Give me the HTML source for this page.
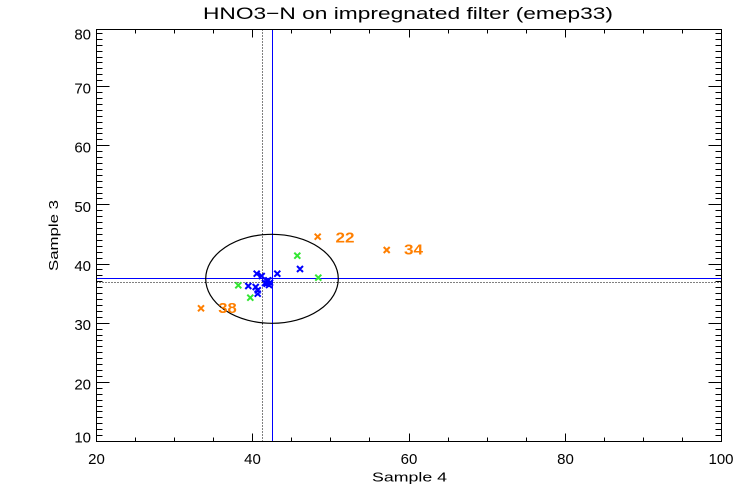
<!DOCTYPE html>
<html><head><meta charset="utf-8"><style>
html,body{margin:0;padding:0;background:#fff;}
svg{display:block;}
text{font-family:"Liberation Sans",sans-serif;}
</style></head><body>
<svg width="750" height="500" viewBox="0 0 750 500" xmlns="http://www.w3.org/2000/svg">
<rect width="750" height="500" fill="#fff"/>
<text x="203" y="19" font-size="17" textLength="410" lengthAdjust="spacingAndGlyphs" fill="#000">HNO3−N on impregnated filter (emep33)</text>

<!-- reference lines -->
<line x1="262.5" y1="29.5" x2="262.5" y2="441.5" stroke="#000" stroke-width="1" stroke-dasharray="1 2"/>
<line x1="96.5" y1="282.5" x2="721.5" y2="282.5" stroke="#000" stroke-width="1" stroke-dasharray="1 2"/>
<line x1="272.5" y1="29.5" x2="272.5" y2="441.5" stroke="#0000ff" stroke-width="1"/>
<line x1="96.5" y1="278.5" x2="721.5" y2="278.5" stroke="#0000ff" stroke-width="1"/>
<ellipse cx="272" cy="278.8" rx="66.3" ry="44.5" fill="none" stroke="#000" stroke-width="1.2"/>

<!-- axes box -->
<rect x="96.5" y="29.5" width="625" height="412" fill="none" stroke="#000" stroke-width="1"/>

<!-- x ticks -->
<path stroke="#000" stroke-width="1" fill="none" d="
M135.5 441.5v-4 M174.5 441.5v-4 M213.5 441.5v-4 M252.5 441.5v-8 M291.5 441.5v-4 M330.5 441.5v-4 M369.5 441.5v-4 M409.5 441.5v-8 M448.5 441.5v-4 M487.5 441.5v-4 M526.5 441.5v-4 M565.5 441.5v-8 M604.5 441.5v-4 M643.5 441.5v-4 M682.5 441.5v-4
M135.5 29.5v4 M174.5 29.5v4 M213.5 29.5v4 M252.5 29.5v8 M291.5 29.5v4 M330.5 29.5v4 M369.5 29.5v4 M409.5 29.5v8 M448.5 29.5v4 M487.5 29.5v4 M526.5 29.5v4 M565.5 29.5v8 M604.5 29.5v4 M643.5 29.5v4 M682.5 29.5v4
"/>
<!-- y ticks left -->
<path stroke="#000" stroke-width="1" fill="none" d="
M96.5 441.5h13 M96.5 435.5h6 M96.5 429.5h6 M96.5 423.5h6 M96.5 417.5h6 M96.5 411.5h6 M96.5 406.5h6 M96.5 400.5h6 M96.5 394.5h6 M96.5 388.5h6
M96.5 382.5h13 M96.5 376.5h6 M96.5 370.5h6 M96.5 364.5h6 M96.5 358.5h6 M96.5 352.5h6 M96.5 346.5h6 M96.5 340.5h6 M96.5 335.5h6 M96.5 329.5h6
M96.5 323.5h13 M96.5 317.5h6 M96.5 311.5h6 M96.5 305.5h6 M96.5 299.5h6 M96.5 293.5h6 M96.5 287.5h6 M96.5 281.5h6 M96.5 275.5h6 M96.5 269.5h6
M96.5 264.5h13 M96.5 258.5h6 M96.5 252.5h6 M96.5 246.5h6 M96.5 240.5h6 M96.5 234.5h6 M96.5 228.5h6 M96.5 222.5h6 M96.5 216.5h6 M96.5 210.5h6
M96.5 204.5h13 M96.5 198.5h6 M96.5 193.5h6 M96.5 187.5h6 M96.5 181.5h6 M96.5 175.5h6 M96.5 169.5h6 M96.5 163.5h6 M96.5 157.5h6 M96.5 151.5h6
M96.5 145.5h13 M96.5 139.5h6 M96.5 133.5h6 M96.5 128.5h6 M96.5 122.5h6 M96.5 116.5h6 M96.5 110.5h6 M96.5 104.5h6 M96.5 98.5h6 M96.5 92.5h6
M96.5 86.5h13 M96.5 80.5h6 M96.5 74.5h6 M96.5 68.5h6 M96.5 62.5h6 M96.5 57.5h6 M96.5 51.5h6 M96.5 45.5h6 M96.5 39.5h6 M96.5 33.5h6
M96.5 29.5h13
"/>
<!-- y ticks right -->
<path stroke="#000" stroke-width="1" fill="none" d="
M721.5 441.5h-13 M721.5 435.5h-6 M721.5 429.5h-6 M721.5 423.5h-6 M721.5 417.5h-6 M721.5 411.5h-6 M721.5 406.5h-6 M721.5 400.5h-6 M721.5 394.5h-6 M721.5 388.5h-6
M721.5 382.5h-13 M721.5 376.5h-6 M721.5 370.5h-6 M721.5 364.5h-6 M721.5 358.5h-6 M721.5 352.5h-6 M721.5 346.5h-6 M721.5 340.5h-6 M721.5 335.5h-6 M721.5 329.5h-6
M721.5 323.5h-13 M721.5 317.5h-6 M721.5 311.5h-6 M721.5 305.5h-6 M721.5 299.5h-6 M721.5 293.5h-6 M721.5 287.5h-6 M721.5 281.5h-6 M721.5 275.5h-6 M721.5 269.5h-6
M721.5 264.5h-13 M721.5 258.5h-6 M721.5 252.5h-6 M721.5 246.5h-6 M721.5 240.5h-6 M721.5 234.5h-6 M721.5 228.5h-6 M721.5 222.5h-6 M721.5 216.5h-6 M721.5 210.5h-6
M721.5 204.5h-13 M721.5 198.5h-6 M721.5 193.5h-6 M721.5 187.5h-6 M721.5 181.5h-6 M721.5 175.5h-6 M721.5 169.5h-6 M721.5 163.5h-6 M721.5 157.5h-6 M721.5 151.5h-6
M721.5 145.5h-13 M721.5 139.5h-6 M721.5 133.5h-6 M721.5 128.5h-6 M721.5 122.5h-6 M721.5 116.5h-6 M721.5 110.5h-6 M721.5 104.5h-6 M721.5 98.5h-6 M721.5 92.5h-6
M721.5 86.5h-13 M721.5 80.5h-6 M721.5 74.5h-6 M721.5 68.5h-6 M721.5 62.5h-6 M721.5 57.5h-6 M721.5 51.5h-6 M721.5 45.5h-6 M721.5 39.5h-6 M721.5 33.5h-6
M721.5 29.5h-13
"/>

<!-- y tick labels -->
<g font-size="15" fill="#000" text-anchor="end">
<text x="91" y="39.5">80</text>
<text x="91" y="93.6">70</text>
<text x="91" y="152.7">60</text>
<text x="91" y="211.9">50</text>
<text x="91" y="271">40</text>
<text x="91" y="330.2">30</text>
<text x="91" y="389.3">20</text>
<text x="91" y="442.7">10</text>
</g>
<!-- x tick labels -->
<g font-size="15" fill="#000" text-anchor="middle">
<text x="96.5" y="464">20</text>
<text x="252.5" y="464">40</text>
<text x="409" y="464">60</text>
<text x="565.5" y="464">80</text>
<text x="721" y="464">100</text>
</g>
<!-- axis titles -->
<text x="372" y="481.5" font-size="12.5" textLength="75" lengthAdjust="spacingAndGlyphs" fill="#000">Sample 4</text>
<text transform="translate(58,235.5) rotate(-90)" x="0" y="0" font-size="12.5" text-anchor="middle" textLength="71" lengthAdjust="spacingAndGlyphs" fill="#000">Sample 3</text>

<!-- markers -->
<g stroke-width="2" fill="none" stroke-linecap="butt">
<path stroke="#33e633" d="
M294.3 252.7l6 6m0 -6l-6 6
M315.3 274.7l6 6m0 -6l-6 6
M235.3 282.3l6 6m0 -6l-6 6
M247.3 294.7l6 6m0 -6l-6 6"/>
<path stroke="#0000ff" d="
M297 266l6 6m0 -6l-6 6
M253.7 270.7l6 6m0 -6l-6 6
M258.7 273l6 6m0 -6l-6 6
M274.3 270.7l6 6m0 -6l-6 6
M265.3 277.3l6 6m0 -6l-6 6
M263.7 280.7l6 6m0 -6l-6 6
M267 279.7l6 6m0 -6l-6 6
M264 278l6 6m0 -6l-6 6
M262 280l6 6m0 -6l-6 6
M266 282l6 6m0 -6l-6 6
M245.3 283l6 6m0 -6l-6 6
M252.7 284l6 6m0 -6l-6 6
M254.7 287.3l6 6m0 -6l-6 6
M254.7 290.7l6 6m0 -6l-6 6"/>
<path stroke="#ff7f00" d="
M314.7 233.7l6 6m0 -6l-6 6
M383.7 247l6 6m0 -6l-6 6
M198 305.3l6 6m0 -6l-6 6"/>
</g>
<g font-size="15" font-weight="bold" fill="#ff7f00">
<text x="335.5" y="242.5" textLength="19" lengthAdjust="spacingAndGlyphs">22</text>
<text x="404" y="254.5" textLength="19" lengthAdjust="spacingAndGlyphs">34</text>
<text x="218.3" y="312.8" textLength="18.5" lengthAdjust="spacingAndGlyphs">38</text>
</g>
</svg>
</body></html>
